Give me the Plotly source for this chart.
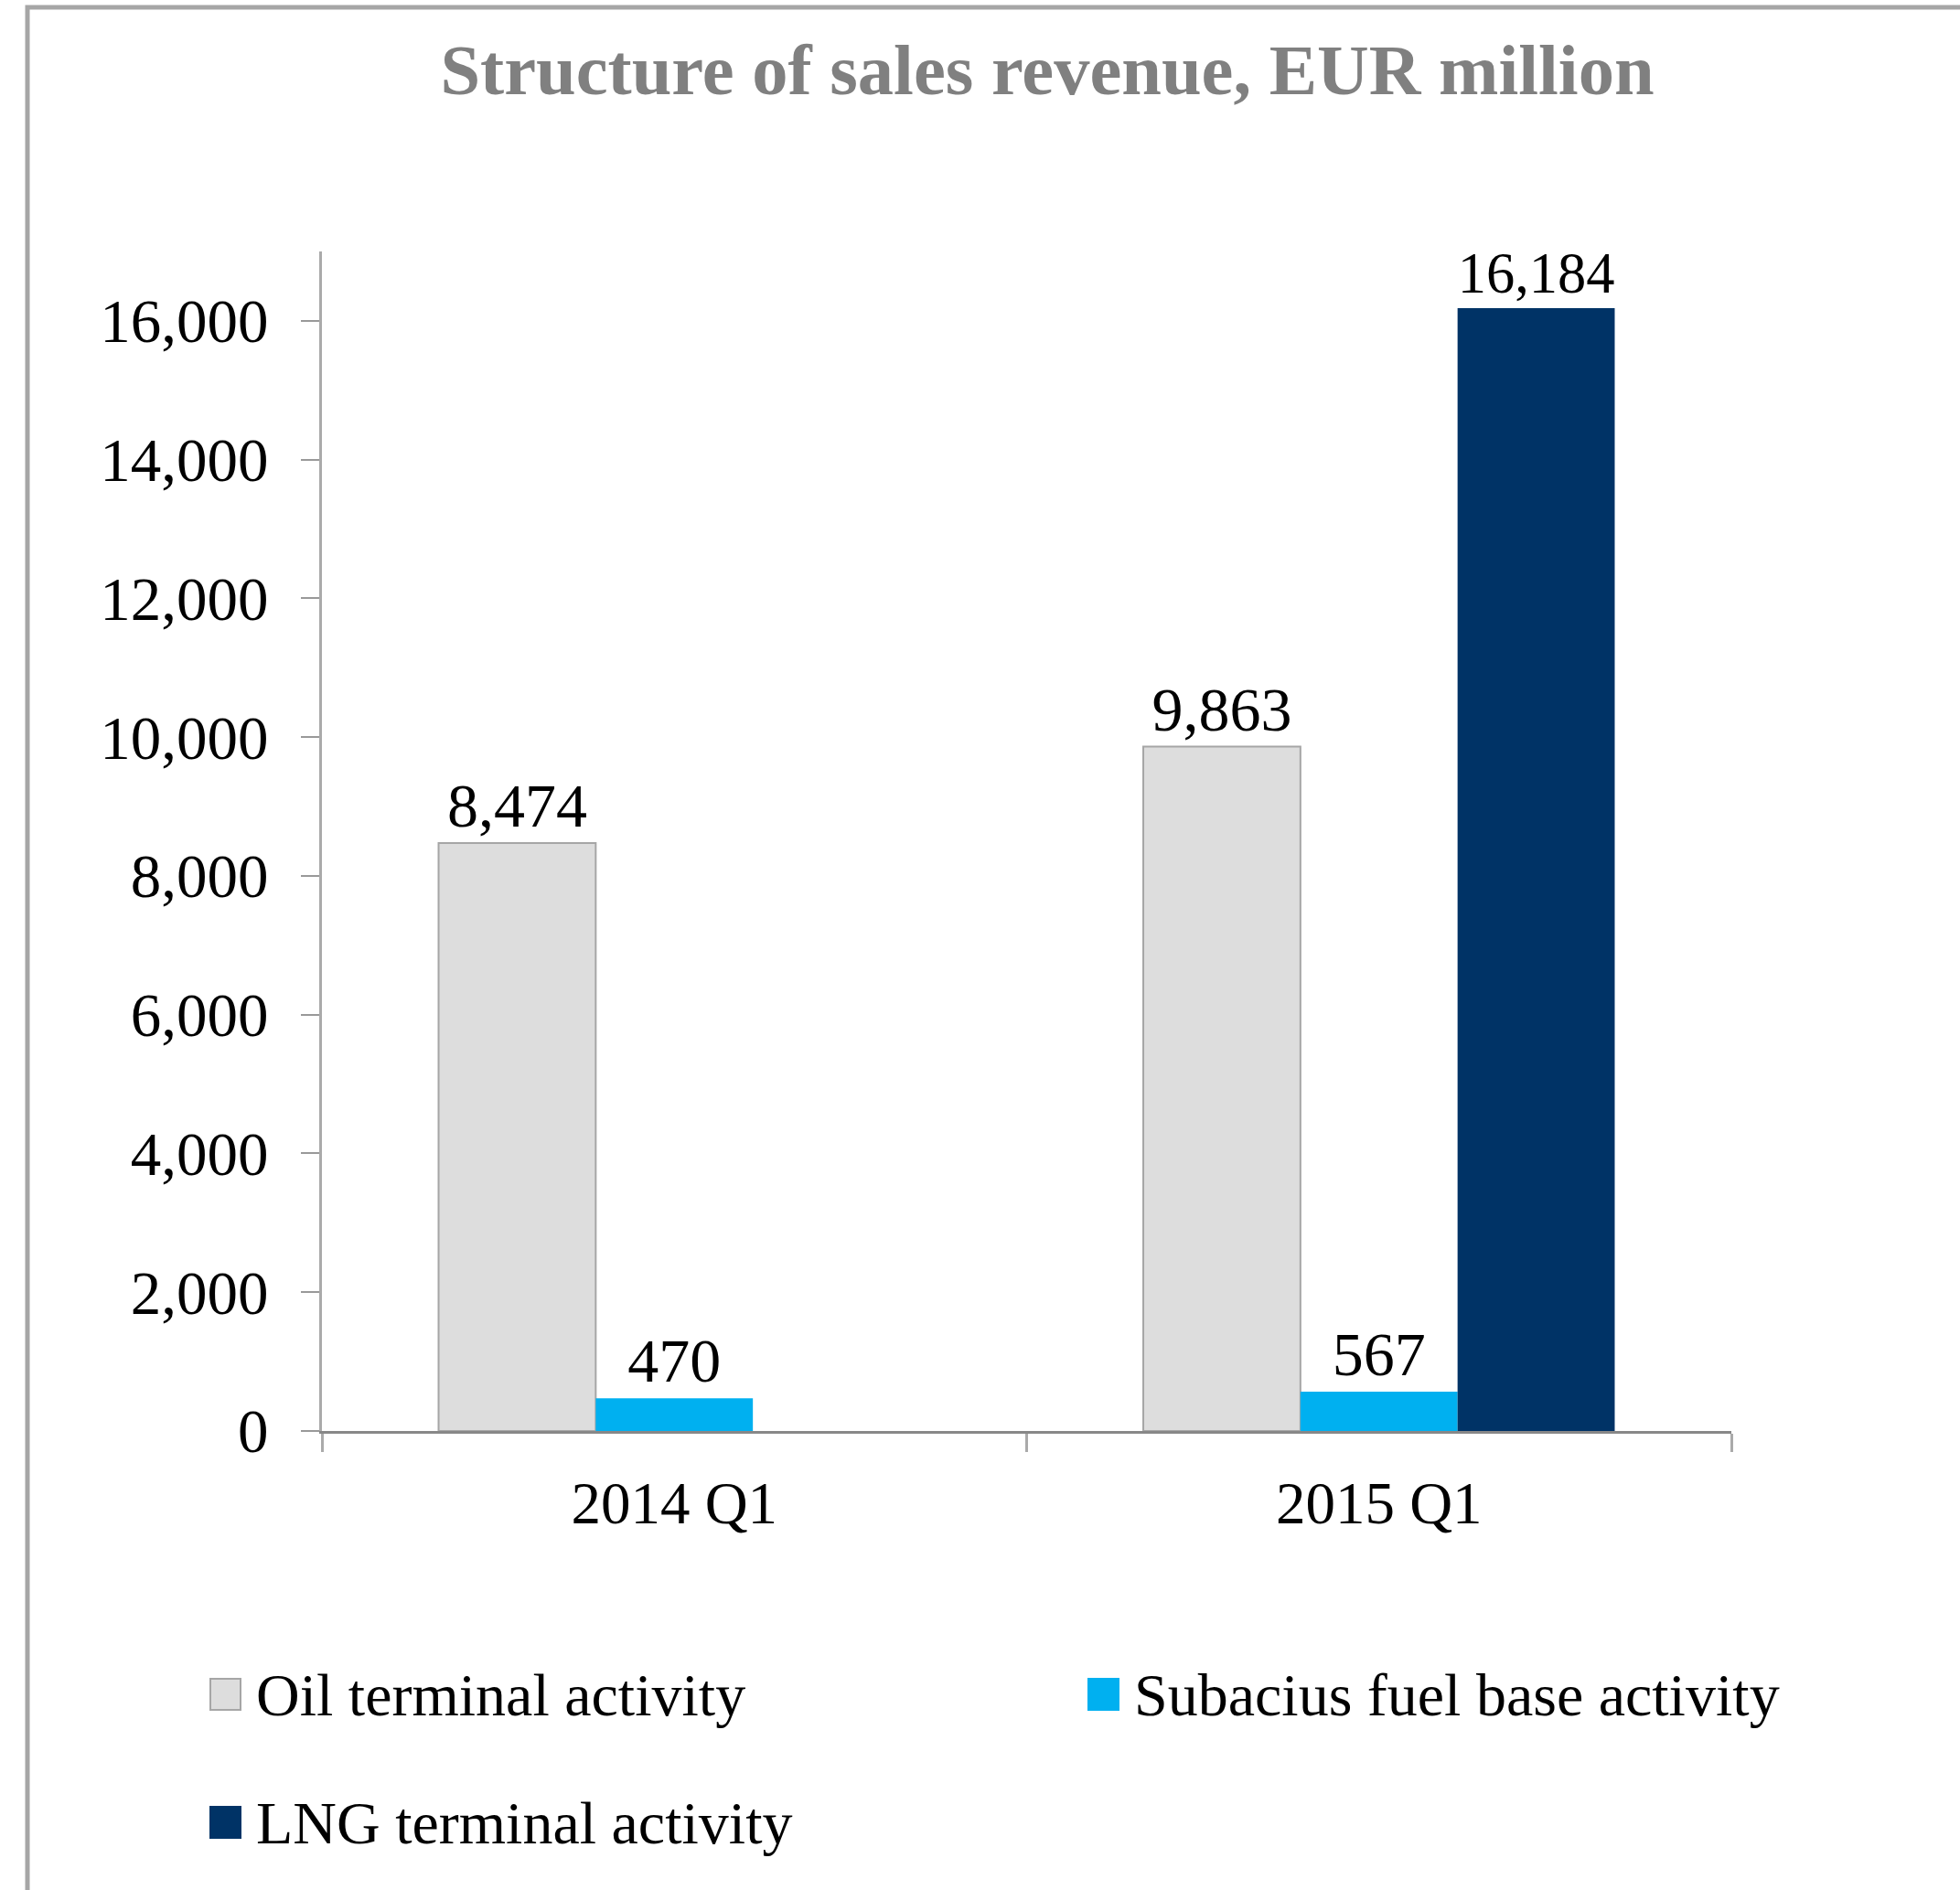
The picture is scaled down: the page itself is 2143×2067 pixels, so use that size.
import plotly.graph_objects as go

# ---- data ----
categories = ["2014 Q1", "2015 Q1"]
series_names = ["Oil terminal activity", "Subacius fuel base activity", "LNG terminal activity"]
oil_values = [8474, 9863]
subacius_values = [470, 567]
lng_values = [None, 16184]
y_ticks = [0, 2000, 4000, 6000, 8000, 10000, 12000, 14000, 16000]

# ---- styles ----
colors = ["#DDDDDD", "#00B0F0", "#003366"]
line_colors = ["#A6A6A6", "#00B0F0", "#003366"]
line_widths = [2, 0, 0]
FONT = "Liberation Serif"

W, H = 2143, 2067
L, R, T, B = 352, 250, 275, 502
PW, PH = W - L - R, H - T - B


def px(x):
    return (x - L) / PW


def py(y):
    return (H - B - y) / PH


fig = go.Figure()
for name, vals, c, lc, lw in zip(series_names, [oil_values, subacius_values, lng_values],
                                 colors, line_colors, line_widths):
    fig.add_trace(go.Bar(
        x=categories, y=vals, name=name,
        marker=dict(color=c, line=dict(color=lc, width=lw)),
        texttemplate="%{y:,.0f}", textposition="outside",
        textfont=dict(family=FONT, size=68, color="#000000"),
        cliponaxis=False, showlegend=False,
    ))

shapes = [
    # outer frame
    dict(type="rect", xref="paper", yref="paper",
         x0=px(30), x1=px(2300), y0=py(2300), y1=py(8),
         line=dict(color="#A6A6A6", width=5), layer="below"),
]
annotations = []
legend_pos = [(230, 1853), (1190, 1853), (230, 1993)]
for name, c, lc, (lx, ly) in zip(series_names, colors, line_colors, legend_pos):
    shapes.append(dict(type="rect", xref="paper", yref="paper",
                       x0=px(lx), x1=px(lx + 33), y0=py(ly + 17), y1=py(ly - 17),
                       fillcolor=c, line=dict(color=lc, width=2)))
    annotations.append(dict(xref="paper", yref="paper", x=px(lx + 48), y=py(ly),
                            xanchor="left", yanchor="middle", showarrow=False,
                            text=name, font=dict(family=FONT, size=66, color="#000000")))

fig.update_layout(
    width=W, height=H,
    margin=dict(l=L, r=R, t=T, b=B, pad=0),
    paper_bgcolor="white", plot_bgcolor="white",
    barmode="group", bargap=0.331, bargroupgap=0,
    title=dict(text="<b>Structure of sales revenue, EUR million</b>",
               x=1145 / W, xanchor="center", xref="container",
               y=1 - 76 / H, yanchor="middle", yref="container",
               font=dict(family=FONT, size=78.5, color="#808080")),
    xaxis=dict(type="category", showline=True, linecolor="#888888", linewidth=3,
               ticks="outside", tickson="boundaries", ticklen=20, tickwidth=3,
               tickcolor="#AAAAAA", showgrid=False, zeroline=False,
               tickfont=dict(family=FONT, size=65, color="#000000"),
               ticklabelstandoff=20),
    yaxis=dict(range=[0, 17000], tickvals=y_ticks, tickformat=",",
               showline=True, linecolor="#AAAAAA", linewidth=3,
               ticks="outside", ticklen=20, tickwidth=2, tickcolor="#999999",
               showgrid=False, zeroline=False,
               tickfont=dict(family=FONT, size=67, color="#000000"),
               ticklabelstandoff=22),
    shapes=shapes, annotations=annotations,
)

fig.write_html("out.html", config={"displayModeBar": False},
               post_script="document.body.style.margin='0';document.body.style.overflow='hidden';")
